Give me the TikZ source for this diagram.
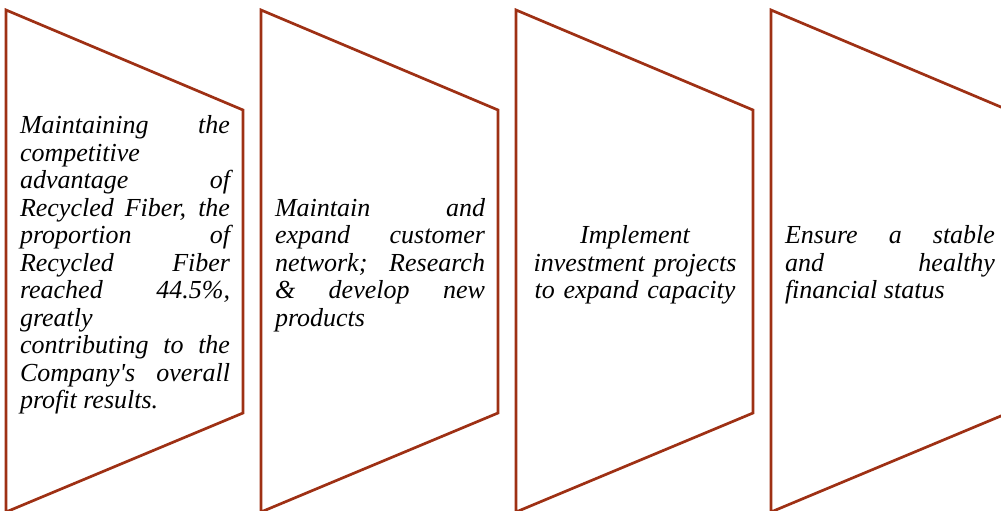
\documentclass[tikz,border=0pt]{standalone}
\usepackage{fontspec}
\setmainfont{Liberation Serif}
\usepackage{tikz}
\usetikzlibrary{shapes.geometric}

\begin{document}
\begin{tikzpicture}[x=1pt,y=-1pt,line cap=rect]
						\definecolor{custcol_9e_30_14}{RGB}{158, 48, 20}
						\definecolor{custcol_0_0_0}{RGB}{0, 0, 0}
						\tikzset{stagebody/.style={line width=2.7pt, custcol_9e_30_14, line join=miter},
						         stagetext/.style={inner sep=0, outer sep=0, custcol_0_0_0, text width=210pt, align=justify,
						                           font=\fontsize{26pt}{27.5pt}\selectfont\itshape}}
						\useasboundingbox (0.0,0.0) rectangle (1001.0,511.0);
						\clip (0.0,0.0) rectangle (1001.0,511.0);
						\draw [stagebody]  (6.0,10.0) -- (243.0,110.0) -- (243.0,413.0) -- (6.0,512.0) -- cycle;
						\draw [stagebody]  (261.0,10.0) -- (498.0,110.0) -- (498.0,413.0) -- (261.0,512.0) -- cycle;
						\draw [stagebody]  (516.0,10.0) -- (753.0,110.0) -- (753.0,413.0) -- (516.0,512.0) -- cycle;
						\draw [stagebody]  (771.0,10.0) -- (1008.0,110.0) -- (1008.0,413.0) -- (771.0,512.0) -- cycle;
						\node[stagetext] (fiber) at (125.0,265.0) {Maintaining the\linebreak competitive\linebreak advantage of\linebreak Recycled Fiber, the\linebreak proportion of\linebreak Recycled Fiber\linebreak reached 44.5\%,\linebreak greatly\linebreak contributing to the\linebreak Company\textquotesingle s overall\linebreak profit results.};
						\node[stagetext] (customer) at (380.0,265.0) {Maintain and\linebreak expand customer\linebreak network; Research\linebreak \& develop new\linebreak products};
						\node[stagetext, align=center] (invest) at (635.0,265.0) {Implement\\ investment projects\\ to expand capacity};
						\node[stagetext] (finance) at (890.0,265.0) {Ensure a stable\linebreak and healthy\linebreak financial status};
						\end{tikzpicture}
\end{document}
